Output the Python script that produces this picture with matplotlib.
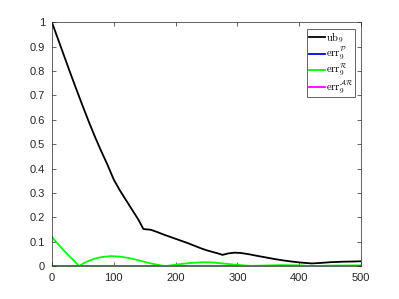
import matplotlib
matplotlib.use("Agg")
import matplotlib.pyplot as plt

plt.rcParams['font.family'] = ['Liberation Sans', 'DejaVu Sans']
plt.rcParams['mathtext.fontset'] = 'cm'

# upper bound ub_9
x_ub = [0, 10, 20, 30, 40, 50, 60, 70, 80, 90, 100, 110, 120, 130, 140, 148,
        160, 170, 180, 190, 200, 210, 220, 230, 240, 250, 260, 270, 276,
        285, 295, 305, 318, 330, 345, 360, 375, 390, 405, 420, 435, 450,
        470, 490, 500]
ub = [1.000, 0.930, 0.860, 0.790, 0.722, 0.655, 0.590, 0.528, 0.470, 0.415,
      0.355, 0.310, 0.270, 0.230, 0.190, 0.152,
      0.149, 0.140, 0.130, 0.121, 0.112, 0.103, 0.094, 0.084, 0.074, 0.065,
      0.058, 0.051, 0.046,
      0.052, 0.055, 0.054, 0.049, 0.043, 0.036, 0.029, 0.023, 0.018, 0.014,
      0.011, 0.013, 0.016, 0.018, 0.019, 0.020]

# error curves
x_err = [0, 10, 20, 30, 40, 44, 50, 60, 70, 80, 95, 110, 125, 140, 155, 170,
         183, 195, 210, 225, 245, 260, 280, 300, 320, 340, 370, 400, 420,
         450, 500]
err_p = [0.001, 0.001, 0.001, 0.001, 0.001, 0.001, 0.001, 0.001, 0.001,
         0.001, 0.001, 0.001, 0.001, 0.001, 0.001, 0.001, 0.001, 0.001,
         0.001, 0.001, 0.001, 0.001, 0.001, 0.001, 0.001, 0.001, 0.001,
         0.001, 0.001, 0.001, 0.001]
err_r = [0.120, 0.090, 0.062, 0.036, 0.011, 0.000, 0.010, 0.022, 0.031,
         0.037, 0.041, 0.039, 0.033, 0.024, 0.014, 0.006, 0.000, 0.004,
         0.009, 0.013, 0.016, 0.015, 0.010, 0.005, 0.001, 0.002, 0.004,
         0.003, 0.000, 0.002, 0.003]
err_ar = [0.002, 0.002, 0.002, 0.002, 0.002, 0.002, 0.002, 0.002, 0.002,
          0.002, 0.002, 0.002, 0.002, 0.002, 0.002, 0.002, 0.002, 0.002,
          0.002, 0.002, 0.002, 0.002, 0.002, 0.002, 0.002, 0.002, 0.002,
          0.002, 0.002, 0.002, 0.002]

labels = [r'$\mathrm{ub}_9$', r'$\mathrm{err}_9^{\mathcal{P}}$',
          r'$\mathrm{err}_9^{\mathcal{R}}$', r'$\mathrm{err}_9^{\mathcal{AR}}$']

fig = plt.figure(figsize=(3.99, 2.99), dpi=100)
ax = fig.add_axes([0.13, 0.11, 0.775, 0.816])

ax.plot(x_ub, ub, color='k', lw=1.3, label=labels[0])
ax.plot(x_err, err_p, color='#0000ff', lw=1.3, label=labels[1])
ax.plot(x_err, err_r, color='#00ff00', lw=1.3, label=labels[2])
ax.plot(x_err, err_ar, color='#ff00ff', lw=1.3, label=labels[3])

ax.set_xlim(0, 500)
ax.set_ylim(0, 1)
ax.set_xticks([0, 100, 200, 300, 400, 500])
ax.set_yticks([0, 0.1, 0.2, 0.3, 0.4, 0.5, 0.6, 0.7, 0.8, 0.9, 1])
ax.set_yticklabels(['0', '0.1', '0.2', '0.3', '0.4', '0.5', '0.6', '0.7',
                    '0.8', '0.9', '1'])
ax.tick_params(direction='in', length=3, width=0.5, top=True, right=True,
               labelsize=8, colors='0.15', pad=5)
for sp in ax.spines.values():
    sp.set_linewidth(0.5)
    sp.set_color('0.15')

leg = ax.legend(loc='upper right', bbox_to_anchor=(0.981, 0.97),
                borderaxespad=0, fontsize=7.5, handlelength=1.6,
                handletextpad=0.1, labelspacing=0.0, borderpad=0.15,
                fancybox=False, framealpha=1)
leg.get_frame().set_edgecolor('0.15')
leg.get_frame().set_linewidth(0.5)

fig.savefig('out.png', dpi=100)
